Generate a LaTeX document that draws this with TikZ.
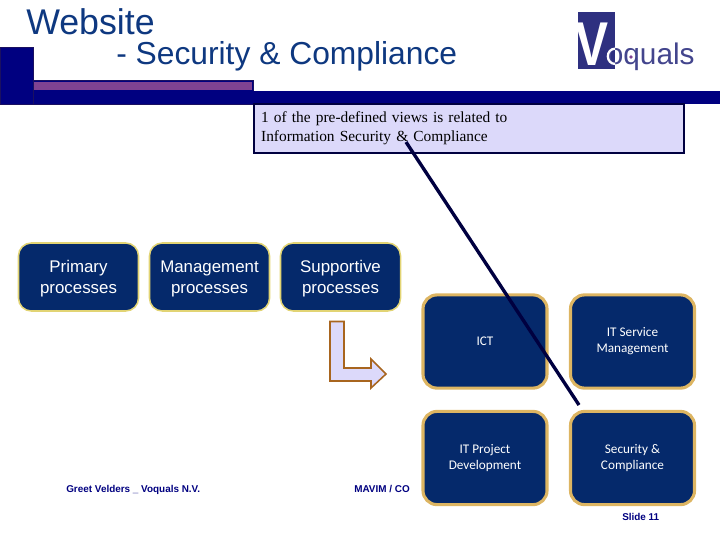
\documentclass[tikz,border=0pt]{standalone}
\usepackage{xcolor}
\usepackage{fontspec}
\setmainfont{Liberation Sans}
\newfontfamily\calloutfont{Liberation Serif}
\newfontfamily\boxfont{Carlito}
\definecolor{headnavy}{HTML}{000080}
\definecolor{headedge}{HTML}{1A1060}
\definecolor{stripviolet}{HTML}{7F4292}
\definecolor{titleblue}{HTML}{0E3880}
\definecolor{boxblue}{HTML}{05296B}
\definecolor{boxgold}{HTML}{DDB562}
\definecolor{boxyellow}{HTML}{E2D474}
\definecolor{calloutfill}{HTML}{DCD9FA}
\definecolor{linedark}{HTML}{000040}
\definecolor{logoblue}{HTML}{2E3080}
\definecolor{arrowbrown}{HTML}{A8651F}
\tikzset{
  processbox/.style={draw=boxyellow, line width=1.1pt, fill=boxblue, rounded corners=0.32cm,
    text=white, align=center, minimum width=3cm, minimum height=1.7cm,
    font=\fontsize{12}{15}\selectfont, text height=26pt},
  viewbox/.style={draw=boxgold, line width=2.2pt, fill=boxblue, rounded corners=0.35cm,
    text=white, align=center, minimum width=3.1cm, minimum height=2.33cm,
    font=\boxfont\fontsize{9.4}{11.4}\selectfont},
  footer/.style={text=headnavy, font=\bfseries\fontsize{7.05}{8}\selectfont, inner sep=0pt}
}
\begin{document}
\begin{tikzpicture}[x=0.025cm, y=-0.025cm]
    \useasboundingbox (0,0) rectangle (720,540);

    % Header bars
    \fill[headnavy, draw=headedge] (0,47.5) rectangle (33,104);
    \fill[headnavy, draw=headedge] (33,80.5) rectangle (253,104);
    \fill[headnavy] (253,91) rectangle (720,104);
    \fill[stripviolet] (34,82) rectangle (252,90);

    % Titles
    \node[anchor=base west, inner sep=0pt, text=titleblue, font=\fontsize{25.4}{30}\selectfont] (title) at (26,34) {Website};
    \node[anchor=base west, inner sep=0pt, text=titleblue, font=\fontsize{22.6}{27}\selectfont] (subtitle) at (116,64) {- Security \& Compliance};

    % Logo
    \fill[logoblue] (578,12) rectangle (615,69);
    \begin{scope}
      \clip (578,12) rectangle (615,69);
      \node[anchor=base, inner sep=0pt, text=white, xscale=0.8, font=\bfseries\fontsize{44}{44}\selectfont] (logov) at (592,65) {V};
    \end{scope}
    \node[anchor=base west, inner sep=0pt, text=logoblue!90!white, font=\fontsize{21.2}{24}\selectfont] (logotext) at (606.5,64) {oquals};
    \begin{scope}
      \clip (578,12) rectangle (615,69);
      \draw[white, line width=1.6pt] (614.8,56.3) ellipse (7 and 7.6);
    \end{scope}
    \fill[stripviolet] (631,57) circle (1.8);

    % Callout
    \node[draw=linedark, line width=1.6pt, fill=calloutfill, anchor=north west, minimum width=10.75cm, minimum height=1.22cm,
      text width=10.4cm, align=left, inner xsep=0.17cm, inner ysep=0pt,
      font=\calloutfont\fontsize{10.95}{13.5}\selectfont, execute at end node={\rule[-3.4pt]{0pt}{3.4pt}}] (callout) at (253,103) {1 of the pre-defined views is related to\\Information Security \& Compliance};

    % Process boxes
    \node[processbox] (primary) at (78.5,277) {Primary\\processes};
    \node[processbox] (management) at (209.5,277) {Management\\processes};
    \node[processbox] (supportive) at (340.5,277) {Supportive\\processes};

    % View boxes
    \node[viewbox] (ict) at (485,341.5) {ICT};
    \node[viewbox] (service) at (632.5,341.5) {IT Service\\Management};
    \node[viewbox] (project) at (485,458) {IT Project\\Development};
    \node[viewbox] (security) at (632.5,458) {Security \&\\Compliance};

    % Bent arrow
    \draw[arrowbrown, line width=1.1pt, fill=calloutfill] (330,321.5) -- (344,321.5) -- (344,368) -- (371,368) -- (371,359)
      -- (386,374) -- (371,388) -- (371,381) -- (330,381) -- cycle;

    % Connection
    \coordinate (calloutend) at (406,142);
    \coordinate (securityend) at (579,405);
    \draw[linedark, line width=2.4pt] (calloutend) -- (securityend);

    % Footer
    \node[footer, anchor=base west] (author) at (66,492) {Greet Velders \_ Voquals N.V.};
    \node[footer, anchor=base west] (mavim) at (354,492) {MAVIM / CO};
    \node[footer, anchor=base west] (slide) at (622,520) {Slide 11};
\end{tikzpicture}
\end{document}
